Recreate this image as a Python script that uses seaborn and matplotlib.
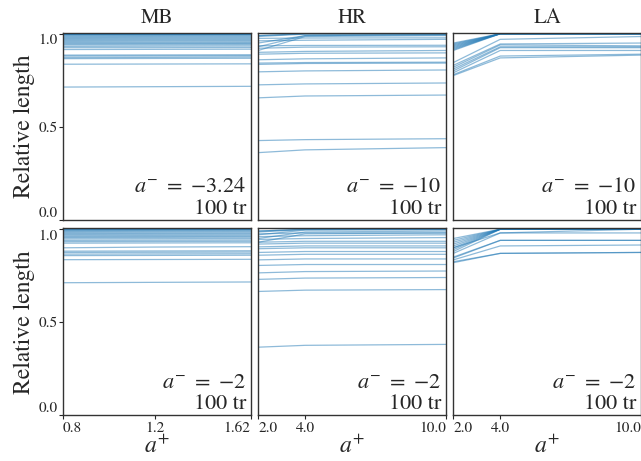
import matplotlib
matplotlib.use("Agg")
import matplotlib.pyplot as plt
import pandas as pd
import seaborn as sns

PANELS = ["MB", "HR", "LA"]
MB_X = [0.8, 1.2, 1.62]
HR_X = [2.0, 4.0, 10.0]
LA_X = [2.0, 4.0, 10.0]

A_MINUS_TOP = ["3.24", "10", "10"]
A_MINUS_BOTTOM = ["2", "2", "2"]

# one tuple per run: value at each a+ point
MB_TOP = [
    (1.0, 1.0, 1.0), (1.0, 1.0, 1.0), (0.998, 0.999, 1.0),
    (0.995, 0.996, 0.997), (0.99, 0.991, 0.992), (0.985, 0.986, 0.987),
    (0.98, 0.981, 0.982), (0.975, 0.976, 0.977), (0.97, 0.971, 0.972),
    (0.965, 0.966, 0.967), (0.96, 0.961, 0.962), (0.955, 0.955, 0.956),
    (0.95, 0.95, 0.951), (0.945, 0.946, 0.947), (0.94, 0.94, 0.941),
    (0.932, 0.933, 0.934), (0.925, 0.925, 0.926), (0.915, 0.916, 0.917),
    (0.885, 0.886, 0.887), (0.88, 0.881, 0.882), (0.872, 0.873, 0.875),
    (0.866, 0.867, 0.868), (0.836, 0.837, 0.838), (0.713, 0.715, 0.717),
]
MB_BOTTOM = [
    (1.0, 1.0, 1.0), (1.0, 1.0, 1.0), (0.997, 0.998, 0.999),
    (0.993, 0.994, 0.995), (0.988, 0.989, 0.99), (0.983, 0.984, 0.985),
    (0.977, 0.978, 0.979), (0.972, 0.973, 0.974), (0.966, 0.967, 0.968),
    (0.96, 0.961, 0.962), (0.955, 0.956, 0.957), (0.948, 0.949, 0.95),
    (0.94, 0.941, 0.942), (0.933, 0.934, 0.935), (0.925, 0.926, 0.927),
    (0.9, 0.904, 0.906), (0.882, 0.883, 0.884), (0.875, 0.876, 0.877),
    (0.866, 0.867, 0.868), (0.858, 0.859, 0.86), (0.836, 0.837, 0.838),
    (0.712, 0.714, 0.716),
]
HR_TOP = [
    (0.99, 1.0, 1.0), (0.99, 1.0, 1.0), (0.985, 0.998, 1.0),
    (0.95, 0.99, 0.995), (0.93, 0.99, 0.995), (0.91, 0.985, 0.99),
    (0.975, 0.977, 0.978), (0.962, 0.965, 0.97), (0.935, 0.937, 0.938),
    (0.922, 0.928, 0.93), (0.9, 0.905, 0.91), (0.89, 0.895, 0.897),
    (0.86, 0.865, 0.87), (0.842, 0.845, 0.847), (0.835, 0.84, 0.842),
    (0.795, 0.8, 0.805), (0.725, 0.73, 0.735), (0.655, 0.665, 0.67),
    (0.425, 0.43, 0.435), (0.36, 0.375, 0.387),
]
HR_BOTTOM = [
    (0.99, 1.0, 1.0), (0.99, 1.0, 1.0), (0.985, 0.998, 1.0),
    (0.97, 0.995, 0.997), (0.95, 0.985, 0.99), (0.93, 0.975, 0.98),
    (0.975, 0.98, 0.98), (0.96, 0.965, 0.97), (0.945, 0.95, 0.955),
    (0.93, 0.935, 0.935), (0.92, 0.925, 0.925), (0.905, 0.91, 0.91),
    (0.895, 0.9, 0.9), (0.875, 0.88, 0.88), (0.86, 0.865, 0.865),
    (0.835, 0.84, 0.84), (0.805, 0.81, 0.81), (0.765, 0.772, 0.775),
    (0.73, 0.737, 0.74), (0.665, 0.672, 0.675), (0.365, 0.375, 0.38),
]
LA_TOP = [
    (0.95, 1.0, 1.0), (0.945, 1.0, 1.0), (0.94, 1.0, 1.0),
    (0.935, 1.0, 1.0), (0.93, 1.0, 1.0), (0.925, 1.0, 1.0),
    (0.92, 1.0, 1.0), (0.915, 1.0, 1.0), (0.91, 1.0, 1.0),
    (0.845, 0.97, 0.985), (0.83, 0.945, 0.95), (0.82, 0.94, 0.935),
    (0.81, 0.93, 0.93), (0.8, 0.925, 0.925), (0.79, 0.91, 0.91),
    (0.78, 0.88, 0.89), (0.775, 0.87, 0.885),
]
LA_BOTTOM = [
    (0.95, 1.0, 1.0), (0.94, 1.0, 1.0), (0.93, 1.0, 1.0),
    (0.92, 1.0, 1.0), (0.91, 1.0, 1.0), (0.9, 1.0, 1.0),
    (0.89, 1.0, 1.0), (0.88, 1.0, 1.0), (0.9, 0.98, 1.0),
    (0.87, 0.98, 0.98), (0.85, 0.94, 0.94), (0.845, 0.94, 0.94),
    (0.835, 0.91, 0.915), (0.825, 0.87, 0.875), (0.82, 0.87, 0.875),
]

BLUE = "#1f77b4"


def to_long(xs, lines):
    rows = []
    for run, vals in enumerate(lines):
        for x, v in zip(xs, vals):
            rows.append({"run": run, "a_plus": x, "rel": v})
    return pd.DataFrame(rows)


sns.set_style("ticks")
plt.rcParams["font.family"] = ["STIXGeneral", "DejaVu Serif"]
plt.rcParams["mathtext.fontset"] = "stix"

fig, axes = plt.subplots(2, 3, figsize=(6.41, 4.61), dpi=100)
fig.subplots_adjust(left=0.0983, right=1.0, top=0.9284, bottom=0.0998,
                    wspace=0.04, hspace=0.048)

grid = [
    [(MB_X, MB_TOP), (HR_X, HR_TOP), (LA_X, LA_TOP)],
    [(MB_X, MB_BOTTOM), (HR_X, HR_BOTTOM), (LA_X, LA_BOTTOM)],
]
a_minus = [A_MINUS_TOP, A_MINUS_BOTTOM]

for r in range(2):
    for c in range(3):
        ax = axes[r, c]
        xs, lines = grid[r][c]
        df = to_long(xs, lines)
        sns.lineplot(data=df, x="a_plus", y="rel", units="run", estimator=None,
                     color=BLUE, alpha=0.5, lw=0.9, ax=ax, legend=False)
        ax.set_xlim(xs[0], xs[-1])
        ax.set_ylim(0, 1.004)
        ax.set_xlabel("")
        ax.set_ylabel("")
        for s in ax.spines.values():
            s.set_color("0.2")
            s.set_linewidth(1.0)

        label = r"$a^{-}\ =\ {-}" + a_minus[r][c] + "$"
        ax.text(0.975, 0.145, label, transform=ax.transAxes,
                ha="right", va="baseline", fontsize=16)
        ax.text(0.975, 0.03, "100 tr", transform=ax.transAxes,
                ha="right", va="baseline", fontsize=16)

        if r == 0:
            ax.set_title(PANELS[c], fontsize=15, pad=7)
            ax.tick_params(bottom=False, labelbottom=False)
        else:
            ax.set_xticks(xs)
            ax.set_xticklabels([f"{x:g}" if x != int(x) else f"{x:.1f}" for x in xs])
            ax.tick_params(axis="x", labelsize=11, length=3, pad=2)
            lbls = ax.get_xticklabels()
            lbls[0].set_ha("left")
            lbls[-1].set_ha("right")
            ax.set_xlabel("$a^{+}$", fontsize=17, labelpad=0)

        if c == 0:
            ax.set_yticks([0, 0.5, 1.0])
            ax.set_yticklabels(["0.0", "0.5", "1.0"])
            ax.tick_params(axis="y", labelsize=11, length=3, pad=1)
            ylbls = ax.get_yticklabels()
            ylbls[0].set_va("bottom")
            ylbls[-1].set_va("top")
            ax.set_ylabel("Relative length", fontsize=17, labelpad=2)
        else:
            ax.tick_params(left=False, labelleft=False)

fig.savefig("out.png", dpi=100)
